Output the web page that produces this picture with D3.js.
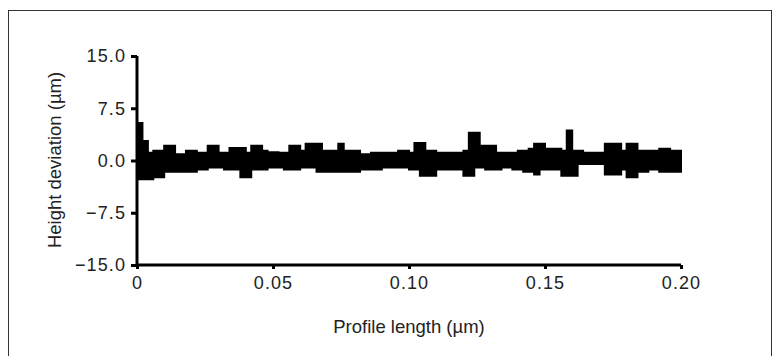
<!DOCTYPE html>
<html>
<head>
<meta charset="utf-8">
<script src="https://d3js.org/d3.v7.min.js"></script>
<style>
  body { margin: 0; background: #fff; }
  text { font-family: "Liberation Sans", Arial, sans-serif; fill: #222; }
</style>
</head>
<body>
<svg width="778" height="356"></svg>
<script>
// profile binned every 0.002 µm from 0 to 0.20: highest and lowest reading in each bin
var binStep = 0.002;
var binHigh = [
  5.4, 2.8, 1.1, 1.4, 1.4, 2.1, 2.1, 0.9, 0.9, 1.4,
  1.4, 1.1, 1.1, 2.1, 2.1, 1.1, 1.1, 1.8, 1.8, 1.8,
  1.1, 2.1, 2.1, 1.4, 1.2, 1.2, 1.1, 1.1, 2.1, 2.1,
  1.4, 2.4, 2.4, 2.4, 1.4, 1.4, 1.4, 2.4, 1.4, 1.4,
  1.4, 0.9, 0.9, 1.1, 1.1, 1.1, 1.1, 1.1, 1.4, 1.4,
  1.1, 2.5, 2.5, 1.4, 1.4, 1.1, 1.1, 1.1, 1.1, 1.1,
  1.4, 4.0, 4.0, 2.1, 2.1, 2.1, 1.1, 1.1, 1.1, 1.1,
  1.4, 1.4, 1.7, 2.4, 2.4, 1.7, 1.7, 1.7, 1.4, 4.3,
  1.4, 1.4, 1.1, 1.1, 1.1, 1.1, 2.4, 2.4, 2.4, 1.4,
  2.4, 2.4, 1.4, 1.4, 1.4, 1.4, 1.7, 1.7, 1.4, 1.4,
  1.4
];
var binLow = [
  -2.7, -2.7, -2.7, -2.4, -2.4, -1.6, -1.6, -1.6, -1.6, -1.6,
  -1.6, -1.3, -1.3, -1.0, -1.0, -1.0, -1.3, -1.3, -1.3, -2.4,
  -2.4, -1.3, -1.3, -1.3, -1.0, -1.0, -1.0, -1.3, -1.3, -1.3,
  -1.0, -1.0, -1.0, -1.6, -1.6, -1.6, -1.6, -1.6, -1.6, -1.6,
  -1.6, -1.3, -1.3, -1.3, -1.3, -1.0, -1.0, -1.0, -1.0, -1.0,
  -1.3, -1.3, -2.2, -2.2, -2.2, -1.3, -1.3, -1.3, -1.3, -1.3,
  -2.2, -2.2, -1.0, -1.0, -1.3, -1.3, -1.3, -1.0, -1.0, -1.3,
  -1.3, -1.6, -1.6, -2.0, -1.3, -1.3, -1.3, -1.3, -2.2, -2.2,
  -2.2, -0.5, -0.5, -0.5, -0.5, -0.5, -2.0, -2.0, -2.0, -1.3,
  -2.4, -2.4, -1.6, -1.6, -1.3, -1.3, -1.6, -1.6, -1.6, -1.6,
  -1.6
];
var xTicks = [0, 0.05, 0.10, 0.15, 0.20];
var xTickLabels = ["0", "0.05", "0.10", "0.15", "0.20"];
var yTicks = [-15, -7.5, 0, 7.5, 15];
var yTickLabels = ["\u221215.0", "\u22127.5", "0.0", "7.5", "15.0"];

var svg = d3.select("svg");

// outer frame
svg.append("rect")
  .attr("x", 8.5).attr("y", 10.5)
  .attr("width", 763).attr("height", 360)
  .attr("fill", "none")
  .attr("stroke", "#333")
  .attr("stroke-width", 1);

var x = d3.scaleLinear().domain([0, 0.2]).range([137, 681]);
var y = d3.scaleLinear().domain([-15, 15]).range([265, 56]);

var bins = binHigh.map(function(h, i) {
  return { x: i * binStep, hi: h, lo: binLow[i] };
});

var band = d3.area()
  .x(function(d) { return x(d.x); })
  .y0(function(d) { return y(d.lo); })
  .y1(function(d) { return y(d.hi); })
  .curve(d3.curveStepAfter);

svg.append("path")
  .datum(bins)
  .attr("d", band)
  .attr("fill", "#000")
  .attr("stroke", "#000")
  .attr("stroke-width", 2);

// axes
var xAxis = svg.append("g")
  .attr("transform", "translate(0,265)")
  .call(d3.axisBottom(x).tickValues(xTicks)
    .tickFormat(function(d, i) { return xTickLabels[i]; })
    .tickSize(4).tickPadding(7));

var yAxis = svg.append("g")
  .attr("transform", "translate(137,0)")
  .call(d3.axisLeft(y).tickValues(yTicks)
    .tickFormat(function(d, i) { return yTickLabels[i]; })
    .tickSize(6).tickPadding(5));

[xAxis, yAxis].forEach(function(a) {
  a.select(".domain").attr("stroke", "#000").attr("stroke-width", 3);
  a.selectAll(".tick line").attr("stroke", "#000").attr("stroke-width", 3);
  a.selectAll(".tick text")
    .attr("font-family", "Liberation Sans, Arial, sans-serif")
    .attr("font-size", 18)
    .attr("letter-spacing", 1.1)
    .attr("fill", "#222");
});
xAxis.select(".domain").attr("d", "M137,0H681");
yAxis.select(".domain").attr("d", "M0,56V265");

svg.append("text")
  .attr("x", 409).attr("y", 333)
  .attr("text-anchor", "middle")
  .attr("font-size", 18.5)
  .text("Profile length (\u00b5m)");

svg.append("text")
  .attr("transform", "translate(61,160) rotate(-90)")
  .attr("text-anchor", "middle")
  .attr("font-size", 18.5)
  .text("Height deviation (\u00b5m)");
</script>
</body>
</html>
